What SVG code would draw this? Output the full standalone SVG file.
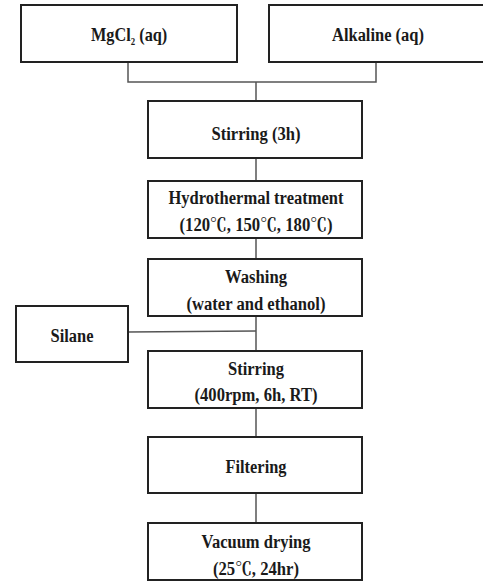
<svg xmlns="http://www.w3.org/2000/svg" width="483" height="581" viewBox="0 0 483 581">
<style>
.box{fill:#fff;stroke:#222;stroke-width:2}
.ln{fill:none;stroke:#555;stroke-width:1.5}
text{font-family:"Liberation Serif","Noto Serif CJK KR","Noto Sans CJK KR",serif;font-weight:bold;font-size:18.5px;fill:#1a1a1a;text-anchor:middle}
.st{text-anchor:start}
.sub{font-size:10px}
</style>
<rect width="483" height="581" fill="#fff"/>
<g id="connectors">
<polyline class="ln" points="128,62 128,82 376,82 376,62"/>
<line class="ln" x1="256" y1="82" x2="256" y2="101"/>
<line class="ln" x1="256" y1="158" x2="256" y2="181"/>
<line class="ln" x1="256" y1="238" x2="256" y2="259"/>
<line class="ln" x1="256" y1="316" x2="256" y2="351"/>
<line class="ln" x1="128" y1="332" x2="256" y2="331"/>
<line class="ln" x1="256" y1="408" x2="256" y2="437"/>
<line class="ln" x1="256" y1="493" x2="256" y2="523"/>
</g>
<g id="mgcl2">
<rect class="box" x="21" y="5" width="216" height="57"/>
<text class="st" transform="translate(91,41) scale(0.88,1)" x="0" y="0">MgCl<tspan class="sub" dy="4">2</tspan><tspan dy="-4"> (aq)</tspan></text>
</g>
<g id="alkaline">
<rect class="box" x="269" y="5" width="218" height="57"/>
<text x="378" y="41" textLength="92" lengthAdjust="spacingAndGlyphs">Alkaline (aq)</text>
</g>
<g id="stirring1">
<rect class="box" x="148" y="101" width="214" height="57"/>
<text x="256" y="140" textLength="89" lengthAdjust="spacingAndGlyphs">Stirring (3h)</text>
</g>
<g id="hydrothermal">
<rect class="box" x="148" y="181" width="214" height="57"/>
<text x="256" y="204" textLength="175" lengthAdjust="spacingAndGlyphs">Hydrothermal treatment</text>
<text x="256" y="231" textLength="153" lengthAdjust="spacingAndGlyphs">(120℃, 150℃, 180℃)</text>
</g>
<g id="washing">
<rect class="box" x="148" y="259" width="214" height="57"/>
<text x="256" y="283" textLength="62" lengthAdjust="spacingAndGlyphs">Washing</text>
<text x="256" y="310" textLength="139" lengthAdjust="spacingAndGlyphs">(water and ethanol)</text>
</g>
<g id="silane">
<rect class="box" x="16" y="306" width="112" height="56"/>
<text x="72" y="342" textLength="43" lengthAdjust="spacingAndGlyphs">Silane</text>
</g>
<g id="stirring2">
<rect class="box" x="148" y="351" width="214" height="57"/>
<text x="256" y="375" textLength="56" lengthAdjust="spacingAndGlyphs">Stirring</text>
<text x="256" y="401" textLength="123" lengthAdjust="spacingAndGlyphs">(400rpm, 6h, RT)</text>
</g>
<g id="filtering">
<rect class="box" x="148" y="437" width="214" height="56"/>
<text x="256" y="473" textLength="61" lengthAdjust="spacingAndGlyphs">Filtering</text>
</g>
<g id="vacuum">
<rect class="box" x="148" y="523" width="214" height="57"/>
<text x="256" y="548" textLength="109" lengthAdjust="spacingAndGlyphs">Vacuum drying</text>
<text x="256" y="575" textLength="86" lengthAdjust="spacingAndGlyphs">(25℃, 24hr)</text>
</g>
</svg>
